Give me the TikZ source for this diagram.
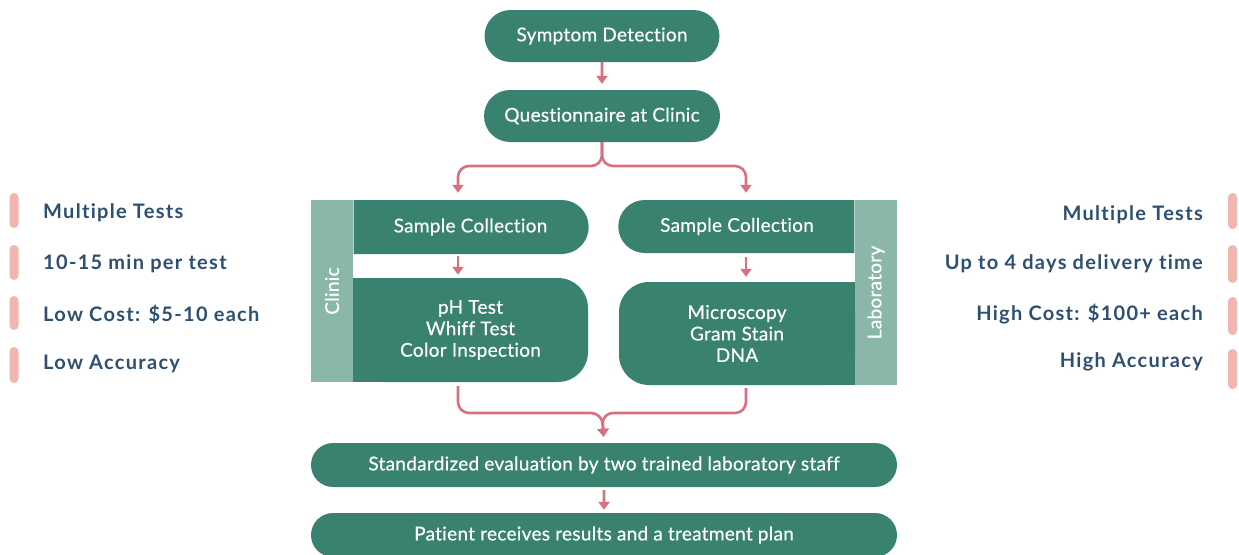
\documentclass[tikz,border=0pt]{standalone}
\usepackage{fontspec}
\setmainfont{Lato}
\newfontfamily\boxfont{Lato}[LetterSpace=1.5,FakeBold=0.4,Ligatures=NoCommon]
\newfontfamily\labfont{Lato}[LetterSpace=6.5,Ligatures=NoCommon]
\usetikzlibrary{shapes.misc,arrows.meta}
\definecolor{tealA}{HTML}{3A8270}
\definecolor{tealB}{HTML}{8BB7AA}
\definecolor{pinkA}{HTML}{D9707F}
\definecolor{pinkB}{HTML}{F2B6B1}
\definecolor{navy}{HTML}{2D4F70}
\begin{document}
\begin{tikzpicture}[x=1pt,y=-1pt,
  box/.style={fill=tealA,text=white,font=\boxfont\fontsize{19}{21.5}\selectfont,inner sep=0pt,align=center},
  pill/.style={box,rounded rectangle},
  sidebar/.style={fill=tealB,text=white,inner sep=0pt,font=\boxfont\fontsize{19}{20}\selectfont},
  arr/.style={draw=pinkA,line width=2.6pt,-{Triangle[length=8pt,width=11pt]}},
  lab/.style={text=navy,font=\labfont\bfseries\fontsize{20}{22}\selectfont,inner sep=0pt},
  mk/.style={fill=pinkB,rounded corners=4.4pt,inner sep=0pt,minimum width=9pt}]
\useasboundingbox (0,0) rectangle (1239,554);
% top
\node[pill,minimum width=235pt,minimum height=52pt] (sd) at (602,36) {Symptom Detection};
\node[pill,minimum width=236pt,minimum height=52pt] (q) at (602,116) {Questionnaire at Clinic};
% clinic column
\node[sidebar,minimum width=42pt,minimum height=182pt] (clinic) at (332,291) {\rotatebox{90}{Clinic}};
\node[box,rounded rectangle,rounded rectangle west arc=none,minimum width=235pt,minimum height=54pt] (scL) at (470.5,227) {Sample Collection};
\fill[tealA] (353,278) rectangle (420,382);
\node[box,rounded corners=30pt,minimum width=235pt,minimum height=104pt] (phL) at (470.5,330) {pH Test\\Whiff Test\\Color Inspection};
% laboratory column
\node[sidebar,minimum width=42pt,minimum height=185pt] (lab) at (876,292.5) {\rotatebox{90}{Laboratory}};
\node[box,rounded rectangle,rounded rectangle east arc=none,minimum width=236pt,minimum height=53pt] (scR) at (737,226.5) {Sample Collection};
\fill[tealA] (790,282) rectangle (855,385);
\node[box,rounded corners=30pt,minimum width=236pt,minimum height=103pt] (mR) at (737,333.5) {Microscopy\\Gram Stain\\DNA};
% bottom
\node[pill,minimum width=586pt,minimum height=44pt] (std) at (604,465) {Standardized evaluation by two trained laboratory staff};
\node[pill,minimum width=586pt,minimum height=44pt] (pat) at (604,535) {Patient receives results and a treatment plan};
% coordinates
\coordinate (cL) at (458,166);
\coordinate (cR) at (746,166);
\coordinate (m) at (602,413);
% connectors
\draw[arr,shorten >=6pt] (sd) -- (q);
\draw[arr,rounded corners=11pt,shorten >=7pt] (q.south) |- (cL) -- (cL |- scL.north);
\draw[arr,rounded corners=11pt,shorten >=7pt] (q.south) |- (cR) -- (cR |- scR.north);
\draw[arr,shorten <=2pt,shorten >=3pt] (scL.south -| cL) -- (phL.north -| cL);
\draw[arr,shorten <=4pt,shorten >=5pt] (scR.south -| cR) -- (mR.north -| cR);
\draw[arr,rounded corners=11pt,shorten <=4pt,shorten >=6pt] (phL.south -| cL) |- (m) -- (std.north);
\draw[arr,rounded corners=11pt,shorten <=3pt,shorten >=6pt] (mR.south -| cR) |- (m) -- (std.north);
\draw[arr,shorten <=3pt,shorten >=3pt] (std) -- (pat);
% left labels
\node[mk,minimum height=35pt] (l1) at (14,210.5) {};
\node[mk,minimum height=35pt] (l2) at (14,262.5) {};
\node[mk,minimum height=34pt] (l3) at (14,313) {};
\node[mk,minimum height=36pt] (l4) at (14,365) {};
\node[lab,anchor=west] (t1) at (43,213) {Multiple Tests};
\node[lab,anchor=west] (t2) at (43,264) {10-15 min per test};
\node[lab,anchor=west] (t3) at (43,314) {Low Cost: \$5-10 each};
\node[lab,anchor=west] (t4) at (43,364) {Low Accuracy};
% right labels
\node[mk,minimum height=36pt] (r1) at (1232.5,211) {};
\node[mk,minimum height=38pt] (r2) at (1232.5,264) {};
\node[mk,minimum height=38pt] (r3) at (1232.5,316) {};
\node[mk,minimum height=40pt] (r4) at (1232.5,369) {};
\node[lab,anchor=east] (u1) at (1203,215) {Multiple Tests};
\node[lab,anchor=east] (u2) at (1203,264) {Up to 4 days delivery time};
\node[lab,anchor=east] (u3) at (1203,314) {High Cost: \$100+ each};
\node[lab,anchor=east] (u4) at (1203,362) {High Accuracy};
\end{tikzpicture}
\end{document}
